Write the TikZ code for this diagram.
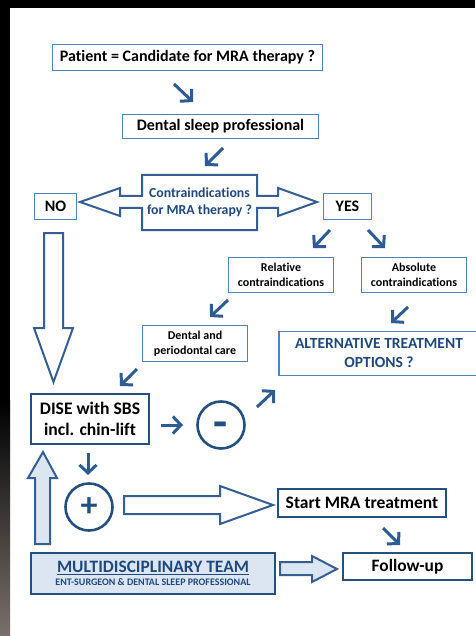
\documentclass[tikz,border=0pt]{standalone}
\usepackage{fontspec}
\setmainfont{Carlito}[Ligatures={NoCommon}]
\usetikzlibrary{arrows.meta,calc}
\definecolor{lb}{HTML}{4F81BD}
\definecolor{db}{HTML}{24507F}
\definecolor{ab}{HTML}{2C5C93}
\definecolor{bb}{HTML}{355F93}
\definecolor{tb}{HTML}{1F497D}
\definecolor{lf}{HTML}{DCE6F2}
\definecolor{bgray}{HTML}{7A706B}
\tikzset{
  fs/.style n args={2}{font=\bfseries\fontsize{#1}{#2}\selectfont},
  lbox/.style={draw=lb, line width=1.4pt, fill=white, inner sep=0pt, align=center},
  dbox/.style={draw=db, line width=2.6pt, fill=white, inner sep=0pt, align=center},
  glyph/.style={draw=ab, line width=3pt, -{Straight Barb[length=8pt,width=17pt]}},
  blk/.style={draw=bb, line width=2pt, line join=miter},
  ring/.style={circle, draw=db, line width=2.6pt, minimum size=47pt, inner sep=0pt, text=db},
}
\begin{document}
\begin{tikzpicture}[x=1pt,y=-1pt]
% background
\fill[white] (0,0) rectangle (475,636);
\fill[black] (0,0) rectangle (475,8);
\fill[black] (0,0) rectangle (10,400);
\shade[top color=black,bottom color=bgray] (0,400) rectangle (10,636);
\useasboundingbox (0,0) rectangle (475,636);

% nodes
\node[lbox, fs={16}{18}, minimum width=270pt, minimum height=26pt] (patient) at (187.5,57.5) {Patient = Candidate for MRA therapy ?};
\node[lbox, fs={16}{18}, minimum width=196pt, minimum height=24pt] (dsp) at (220.5,126.5) {Dental sleep professional};

% double arrow around contraindications
\draw[blk, fill=white] (142,175) -- (257,175) -- (257,196) -- (278,196) -- (278,188) -- (317,202) -- (278,216) -- (278,208) -- (257,208) -- (257,230) -- (142,230) -- (142,208) -- (120,208) -- (120,216) -- (80,202) -- (120,188) -- (120,196) -- (142,196) -- cycle;
\node[fs={13.8}{17}, text=tb, align=center, minimum width=115pt, minimum height=55pt, inner sep=0pt] (contra) at (199.5,202.5) {Contraindications\\for MRA therapy ?};

\node[lbox, fs={16}{18}, minimum width=42pt, minimum height=26pt] (no) at (55.5,206.5) {NO};
\node[lbox, fs={16}{18}, minimum width=48pt, minimum height=26pt] (yes) at (347.5,206.5) {YES};
\node[lbox, fs={12}{14.5}, minimum width=105pt, minimum height=35pt] (rel) at (281,275) {Relative\\contraindications};
\node[lbox, fs={12}{14.5}, minimum width=105pt, minimum height=35pt] (abs) at (414,275) {Absolute\\contraindications};
\node[lbox, fs={12}{14.5}, minimum width=105pt, minimum height=36pt] (perio) at (195,343.5) {Dental and\\periodontal care};
\node[lbox, fs={15.5}{19}, text=tb, minimum width=200pt, minimum height=44pt] (alt) at (379,353.5) {ALTERNATIVE TREATMENT\\OPTIONS ?};

\node[dbox, fs={17.6}{21}, minimum width=118pt, minimum height=50pt] (dise) at (90,419) {DISE with SBS\\incl. chin-lift};
\node[ring, fs={46}{46}, text height=0pt, text depth=0pt] (minus) at (221,425) {\raisebox{-12pt}{-}};
\node[ring, fs={34}{34}] (plus) at (89,507) {+};
\node[dbox, fs={17.5}{20}, minimum width=168pt, minimum height=28pt] (start) at (362,503) {Start MRA treatment};
\node[dbox, fill=lf, align=center, minimum width=244pt, minimum height=41pt] (mdt) at (153,573.5) {\textcolor{tb}{\bfseries\fontsize{17.4}{19}\selectfont\underline{MULTIDISCIPLINARY TEAM}}\\[1pt]\textcolor{tb}{\bfseries\fontsize{10}{11}\selectfont ENT-SURGEON \& DENTAL SLEEP PROFESSIONAL}};
\node[dbox, fs={17.4}{20}, minimum width=129pt, minimum height=27pt] (fup) at (407.5,566.5) {Follow-up};

% block arrows
\draw[blk, fill=white] (44,233) -- (63,233) -- (63,328) -- (73,328) -- (53.5,382) -- (34,328) -- (44,328) -- cycle;
\draw[blk, fill=lf] (35,544) -- (50,544) -- (50,478) -- (57,478) -- (43,452) -- (28,478) -- (35,478) -- cycle;
\draw[blk, fill=white] (124,496) -- (220,496) -- (220,486) -- (273,505) -- (220,524) -- (220,514) -- (124,514) -- cycle;
\draw[blk, fill=lf] (280,562) -- (312,562) -- (312,556) -- (337,569) -- (312,582) -- (312,575) -- (280,575) -- cycle;

% glyph arrows
\coordinate (s1) at (174,84);  \coordinate (e1) at (193,102);
\coordinate (s2) at (223,148); \coordinate (e2) at (205,166);
\coordinate (s3) at (330,230); \coordinate (e3) at (313,248);
\coordinate (s4) at (368,230); \coordinate (e4) at (385,248);
\coordinate (s5) at (228,300); \coordinate (e5) at (210,317);
\coordinate (s6) at (408,307); \coordinate (e6) at (391,323);
\coordinate (s7) at (137,369); \coordinate (e7) at (120,386);
\coordinate (s8) at (161,425); \coordinate (e8) at (183,425);
\coordinate (s9) at (257,407); \coordinate (e9) at (275,390);
\coordinate (s10) at (88,453); \coordinate (e10) at (88,475);
\coordinate (s11) at (383,528); \coordinate (e11) at (400,545);
\foreach \i in {1,...,11} \draw[glyph] (s\i) -- (e\i);
\end{tikzpicture}
\end{document}
